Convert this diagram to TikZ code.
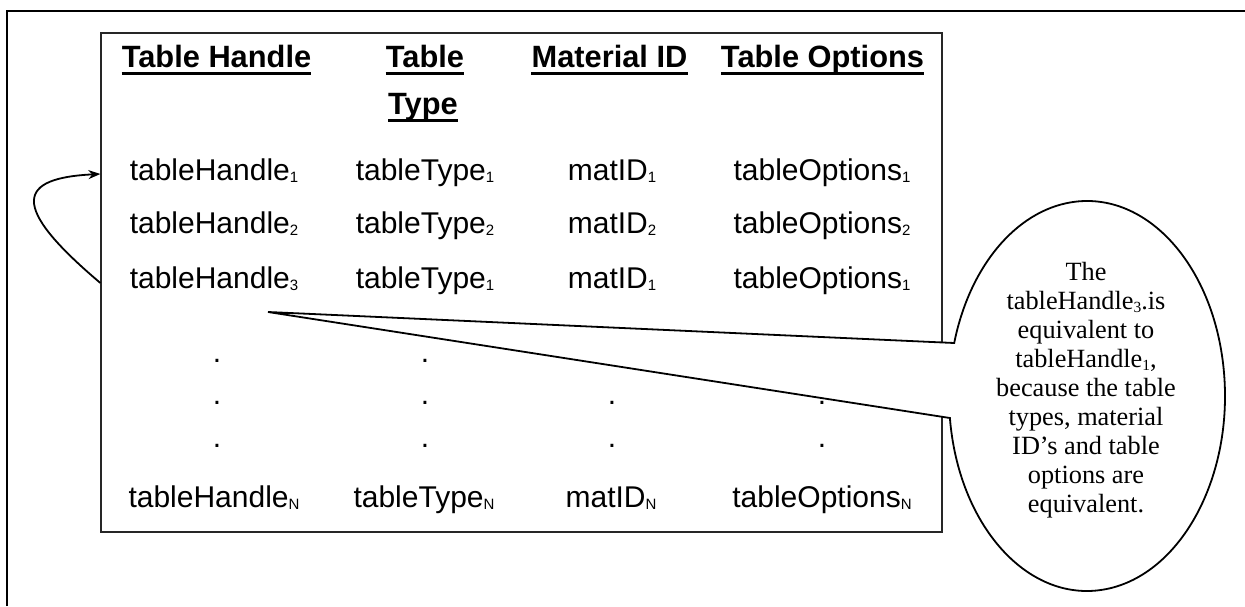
\documentclass[tikz,border=0pt]{standalone}
\usepackage{fontspec}
\setmainfont{Liberation Serif}
\newfontfamily\arialfont{Liberation Sans}
\usetikzlibrary{arrows.meta,calc}
\newcommand{\ssub}[1]{\raisebox{-2pt}{\fontsize{15}{15}\selectfont #1}}
\newcommand{\rsub}[1]{\raisebox{-3pt}{\fontsize{15.5}{15.5}\selectfont #1}}
\begin{document}
\begin{tikzpicture}[x=1pt,y=1pt,
  hdr/.style={font=\arialfont\bfseries\fontsize{30.8}{36}\selectfont, inner sep=0pt, anchor=base},
  cell/.style={font=\arialfont\fontsize{30}{35}\selectfont, inner sep=0pt, anchor=base},
  ul/.style={line width=2.6pt},
  frame/.style={line width=1.4pt},
  tbox/.style={draw=black!85, line width=1.2pt},
  curve/.style={line width=1.8pt, -{Stealth[length=12pt,width=9pt]}},
  callout/.style={draw, line width=1.8pt, fill=white},
  ctext/.style={font=\fontsize{26.3}{29}\selectfont, align=center, inner sep=0pt}]
\useasboundingbox (0,0) rectangle (1245,606);
\fill[white] (0,0) rectangle (1245,606);
% outer frame
\draw[frame] (7,0) -- (7,595) -- (1245,595);
% table box
\node[tbox, minimum width=841pt, minimum height=499pt, inner sep=0pt] (tbl) at (521.5,323.5) {};
% headers
\node[hdr] (h1) at (216.5,538) {Table Handle};
\node[hdr] (h2a) at (425,538) {Table};
\node[hdr] (h2b) at (423,491) {Type};
\node[hdr] (h3) at (609.5,538) {Material ID};
\node[hdr] (h4) at (822.5,538) {Table Options};
\foreach \n in {h1,h2a,h2b,h3,h4}
  \draw[ul] ([yshift=-5.5pt]\n.base west) -- ([yshift=-5.5pt]\n.base east);
% rows
\node[cell] (r1c1) at (214,425) {tableHandle\ssub{1}};
\node[cell] (r1c2) at (425,425) {tableType\ssub{1}};
\node[cell] (r1c3) at (612,425) {matID\ssub{1}};
\node[cell] (r1c4) at (822,425) {tableOptions\ssub{1}};
\node[cell] (r2c1) at (214,372) {tableHandle\ssub{2}};
\node[cell] (r2c2) at (425,372) {tableType\ssub{2}};
\node[cell] (r2c3) at (612,372) {matID\ssub{2}};
\node[cell] (r2c4) at (822,372) {tableOptions\ssub{2}};
\node[cell] (r3c1) at (214,317) {tableHandle\ssub{3}};
\node[cell] (r3c2) at (425,317) {tableType\ssub{1}};
\node[cell] (r3c3) at (612,317) {matID\ssub{1}};
\node[cell] (r3c4) at (822,317) {tableOptions\ssub{1}};
\node[cell] (rNc1) at (214,99) {tableHandle\ssub{N}};
\node[cell] (rNc2) at (424,99) {tableType\ssub{N}};
\node[cell] (rNc3) at (611,99) {matID\ssub{N}};
\node[cell] (rNc4) at (822,99) {tableOptions\ssub{N}};
% dots
\foreach \y [count=\i] in {244,202,159} {
  \node[cell] (d\i a) at (217,\y) {.};
  \node[cell] (d\i b) at (425,\y) {.};
  \node[cell] (d\i c) at (612,\y) {.};
  \node[cell] (d\i d) at (822,\y) {.};
}
% curved arrow
\coordinate (a3) at (tbl.west |- 0,323);
\coordinate (a1) at (tbl.west |- 0,432);
\draw[curve] (a3) .. controls (8,401) and (18,428) .. (a1);
% callout
\coordinate (ec) at (1087,210);
\coordinate (tip) at (268,294);
\draw[callout] (tip) -- ($(ec)+(186.48:138pt and 195pt)$)
  arc[start angle=186.48, end angle=524.23, x radius=138pt, y radius=195pt] -- cycle;
\node[ctext] (note) at (1086,215.8) {The\\ tableHandle\rsub{3}.is\\ equivalent to\\ tableHandle\rsub{1},\\ because the table\\ types, material\\ ID’s and table\\ options are\\ equivalent.};
\end{tikzpicture}
\end{document}
